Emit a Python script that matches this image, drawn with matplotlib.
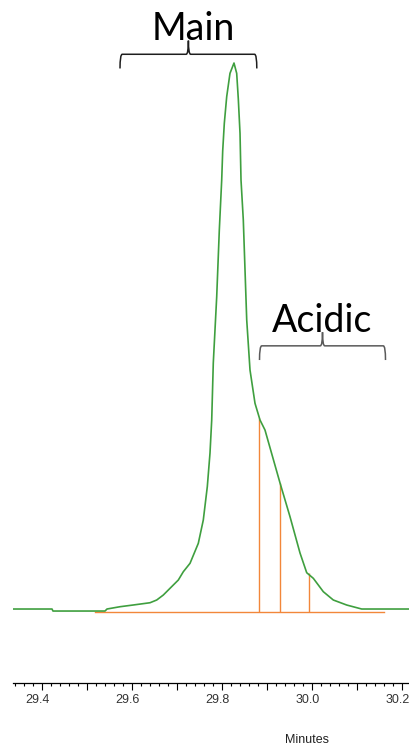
"""Chromatogram of the main peak with acidic variant cuts."""

import matplotlib
matplotlib.use("Agg")
import matplotlib.pyplot as plt
from matplotlib.path import Path
from matplotlib.patches import PathPatch
from matplotlib.ticker import MultipleLocator, FuncFormatter
from matplotlib.transforms import ScaledTranslation

# trace: time (min) and signal (peak = 100)
trace_time = [29.3369, 29.4229, 29.4251, 29.5407, 29.5451, 29.5740, 29.6029,
              29.6407, 29.6556, 29.6702, 29.6851, 29.7036, 29.7147, 29.7296,
              29.7480, 29.7591, 29.7680, 29.7740, 29.7778, 29.7813, 29.7889,
              29.7947, 29.8000, 29.8022, 29.8058, 29.8111, 29.8184, 29.8273,
              29.8333, 29.8369, 29.8407, 29.8429, 29.8480, 29.8518, 29.8556,
              29.8629, 29.8740, 29.8851, 29.8962, 29.9296, 29.9518, 29.9740,
              29.9889, 30.0036, 30.0258, 30.0480, 30.0778, 30.1111, 30.2162]
trace_signal = [0.0, 0.0, -0.37, -0.37, 0.0, 0.42, 0.73,
                1.15, 1.65, 2.56, 3.79, 5.31, 6.83, 8.37,
                12.03, 16.30, 22.40, 28.57, 34.62, 45.05, 57.20,
                69.41, 78.57, 83.88, 88.96, 93.83, 98.11, 100.0,
                98.11, 93.41, 87.12, 78.57, 71.25, 62.09, 52.93,
                43.77, 37.67, 34.62, 32.78, 23.08, 16.90, 10.26,
                6.65, 5.62, 3.17, 1.65, 0.73, 0.0, 0.0]

# integration baseline and drop lines
baseline_time = [29.518, 30.161]
baseline_signal = [-0.6, -0.6]
cut_time = [29.883, 29.930, 29.994]
cut_signal = [35.0, 23.1, 6.65]

# bracketed regions: (label, start, end, height)
regions = [("Main", 29.574, 29.878, 101.6), ("Acidic", 29.884, 30.164, 48.2)]
region_colors = ["#1e1e1e", "#5a5a5a"]

GREEN = "#3f9f3f"
ORANGE = "#f2873a"


def curly_brace(ax, x0, x1, y, drop, rise, color):
    xm = (x0 + x1) / 2
    r = 0.005
    verts = [
        (x0, y - drop), (x0, y), (x0 + r, y),
        (xm - r, y), (xm, y), (xm, y + rise),
        (xm, y), (xm + r, y),
        (x1 - r, y), (x1, y), (x1, y - drop),
    ]
    codes = [Path.MOVETO, Path.CURVE3, Path.CURVE3,
             Path.LINETO, Path.CURVE3, Path.CURVE3,
             Path.CURVE3, Path.CURVE3,
             Path.LINETO, Path.CURVE3, Path.CURVE3]
    ax.add_patch(PathPatch(Path(verts, codes), fill=False, edgecolor=color, lw=1.1))


fig = plt.figure(figsize=(4.09, 7.46), dpi=100)
ax = fig.add_axes([13.3 / 409, 63 / 746, 1 - 13.3 / 409, 1 - 63 / 746])
ax.set_xlim(29.3369, 30.2162)
ax.set_ylim(-13.55, 111.54)

ax.plot(trace_time, trace_signal, color=GREEN, lw=1.2, zorder=3,
        solid_joinstyle="round")
ax.plot(baseline_time, baseline_signal, color=ORANGE, lw=1.0, zorder=2)
ax.vlines(cut_time, baseline_signal[0], cut_signal, color=ORANGE, lw=1.0, zorder=2)

for (label, x0, x1, y), color in zip(regions, region_colors):
    curly_brace(ax, x0, x1, y, 2.6, 2.5, color)
    ax.text((x0 + x1) / 2 + 0.012 * (label == "Main"), y + 2.6, label,
            ha="center", va="baseline", fontsize=27, family="Lato", color="black")

for side in ["left", "right", "top"]:
    ax.spines[side].set_visible(False)
ax.spines["bottom"].set_linewidth(0.9)
ax.set_yticks([])
ax.xaxis.set_major_locator(MultipleLocator(0.1))
ax.xaxis.set_minor_locator(MultipleLocator(0.02))
ax.xaxis.set_major_formatter(FuncFormatter(
    lambda v, _: f"{v:.1f}" if round(v * 10) % 2 == 0 else ""))
ax.tick_params(axis="x", which="major", length=5, width=0.8, pad=3,
               labelsize=9, labelcolor="#333333")
ax.tick_params(axis="x", which="minor", length=2.4, width=0.8)
for lab in ax.get_xticklabels():
    lab.set_family("Liberation Sans")
    lab.set_transform(lab.get_transform() + ScaledTranslation(-4 / 100, 0, fig.dpi_scale_trans))

fig.text(306.7 / 409, 1 - 740 / 746, "Minutes", ha="center", va="center",
         fontsize=9, family="Liberation Sans", color="#222222")

fig.savefig("out.png", dpi=100)
